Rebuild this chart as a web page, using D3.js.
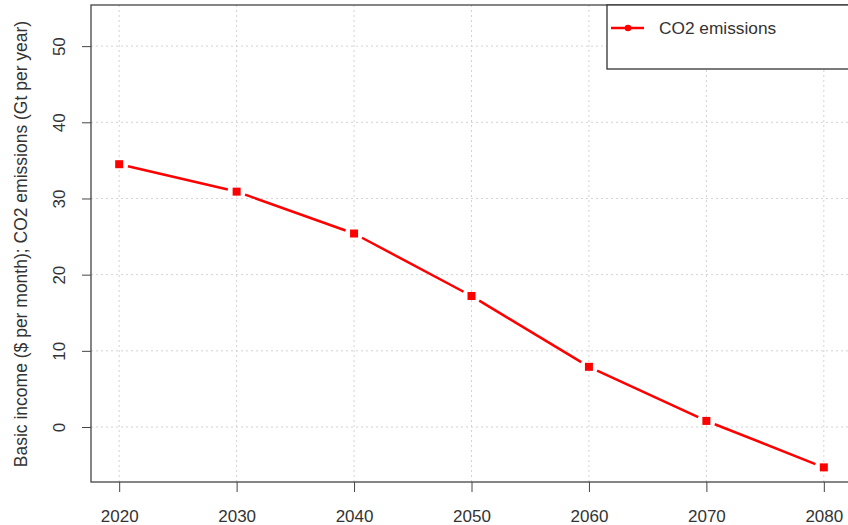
<!DOCTYPE html>
<html>
<head>
<meta charset="utf-8">
<script src="https://cdn.jsdelivr.net/npm/d3@7"></script>
<style>
  body { margin: 0; background: #fff; }
  text { font-family: "Liberation Sans", Arial, sans-serif; fill: #333; }
</style>
</head>
<body>
<svg width="848" height="525"></svg>
<script>
// данные графика
const years = [2020, 2030, 2040, 2050, 2060, 2070, 2080]
const co2 = [34.5, 30.9, 25.4, 17.2, 7.9, 0.8, -5.3]
const yTicks = [0, 10, 20, 30, 40, 50]
const seriesName = "CO2 emissions"
const yLabel = "Basic income ($ per month); CO2 emissions (Gt per year)"

const svg = d3.select("svg")
const pLeft = 91, pRight = 852, pTop = 5, pBottom = 482

const x = d3.scaleLinear().domain([2017.6, 2082.4]).range([pLeft, pRight])
const y = d3.scaleLinear().domain([-7.22, 55.4]).range([pBottom, pTop])

// сетка
svg.append("g").selectAll("line").data(years).join("line")
  .attr("x1", d => x(d)).attr("x2", d => x(d))
  .attr("y1", pTop).attr("y2", pBottom)
  .attr("stroke", "#d3d3d3").attr("stroke-dasharray", "2,3")
svg.append("g").selectAll("line").data(yTicks).join("line")
  .attr("x1", pLeft).attr("x2", pRight)
  .attr("y1", d => y(d)).attr("y2", d => y(d))
  .attr("stroke", "#d3d3d3").attr("stroke-dasharray", "2,3")

// оси
const xAxis = svg.append("g").attr("transform", `translate(0,${pBottom})`)
  .call(d3.axisBottom(x).tickValues(years).tickFormat(d3.format("d")).tickSize(10).tickSizeOuter(0))
xAxis.select(".domain").remove()
xAxis.selectAll("line").attr("stroke", "#444")
xAxis.selectAll("text").attr("font-size", 17).attr("dy", 0).attr("y", 40).attr("fill", "#333")

const yAxis = svg.append("g").attr("transform", `translate(${pLeft},0)`)
  .call(d3.axisLeft(y).tickValues(yTicks).tickSize(9).tickSizeOuter(0))
yAxis.select(".domain").remove()
yAxis.selectAll("line").attr("stroke", "#444")
yAxis.selectAll("text")
  .attr("font-size", 17).attr("fill", "#333")
  .attr("x", 0).attr("dy", 0)
  .attr("text-anchor", "middle")
  .attr("transform", "translate(-26,0) rotate(-90)")
  .attr("y", 0)

// рамка
svg.append("rect")
  .attr("x", pLeft).attr("y", pTop)
  .attr("width", pRight - pLeft).attr("height", pBottom - pTop)
  .attr("fill", "none").attr("stroke", "#444").attr("stroke-width", 1.3)

// подпись оси Y
svg.append("text")
  .attr("transform", `translate(27,244) rotate(-90)`)
  .attr("text-anchor", "middle")
  .attr("font-size", 17.5)
  .text(yLabel)

// линия с разрывами у точек (как type="b" в R)
const pts = years.map((d, i) => ({ x: x(d), y: y(co2[i]) }))
const gap = 9
const segs = []
for (let i = 0; i < pts.length - 1; i++) {
  const a = pts[i], b = pts[i + 1]
  const dx = b.x - a.x, dy = b.y - a.y
  const len = Math.sqrt(dx * dx + dy * dy)
  const ux = dx / len, uy = dy / len
  segs.push({ x1: a.x + ux * gap, y1: a.y + uy * gap, x2: b.x - ux * gap, y2: b.y - uy * gap })
}
svg.append("g").selectAll("line").data(segs).join("line")
  .attr("x1", d => d.x1).attr("y1", d => d.y1)
  .attr("x2", d => d.x2).attr("y2", d => d.y2)
  .attr("stroke", "red").attr("stroke-width", 2.5)

svg.append("g").selectAll("rect").data(pts).join("rect")
  .attr("x", d => d.x - 4).attr("y", d => d.y - 4)
  .attr("width", 8).attr("height", 8)
  .attr("fill", "red")

// легенда
const lg = svg.append("g")
lg.append("rect").attr("x", 607).attr("y", pTop).attr("width", 260).attr("height", 64)
  .attr("fill", "#fff").attr("stroke", "#333").attr("stroke-width", 1.3)
lg.append("line").attr("x1", 611).attr("x2", 644).attr("y1", 28).attr("y2", 28)
  .attr("stroke", "red").attr("stroke-width", 2.5)
lg.append("circle").attr("cx", 628).attr("cy", 28).attr("r", 3.3).attr("fill", "red")
lg.append("text").attr("x", 659).attr("y", 34).attr("font-size", 17.3).text(seriesName)
</script>
</body>
</html>
